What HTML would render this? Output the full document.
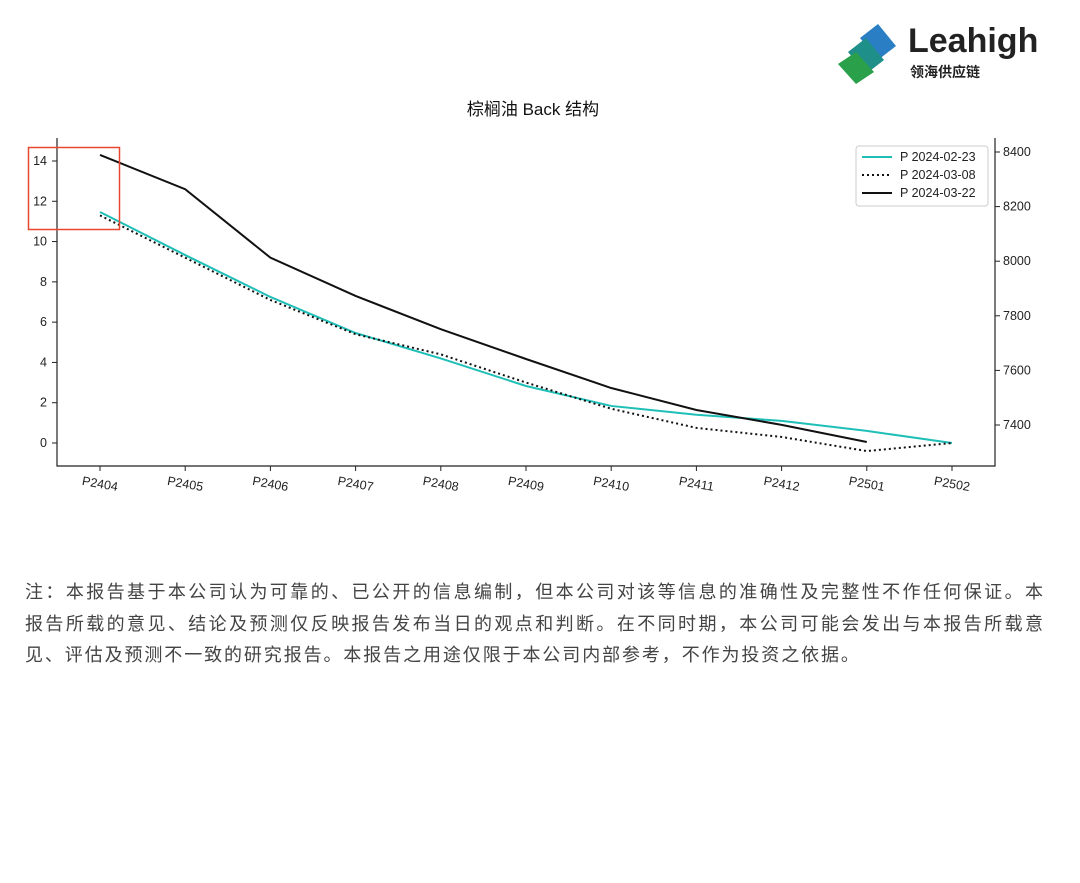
<!DOCTYPE html>
<html><head><meta charset="utf-8"><style>
body{margin:0;width:1080px;height:883px;background:#fff;font-family:"Liberation Sans","Noto Sans CJK SC",sans-serif;position:relative;overflow:hidden}
.note{position:absolute;left:25px;top:577px;width:1018px;font-size:18px;line-height:31.5px;color:#444;letter-spacing:1.9px}
.j{text-align:justify;text-align-last:justify;white-space:nowrap;letter-spacing:0}
</style></head><body>
<div style="position:absolute;left:838px;top:22px;width:210px;height:65px">
<svg width="60" height="62" style="position:absolute;left:0;top:2px">
<polygon points="22,14 40,0 58,22 40,36" fill="#2a7fc4"/>
<polygon points="10,28 28,14 46,36 28,50" fill="#1f8f8a"/>
<polygon points="0,40 18,28 36,48 18,60" fill="#2aa04a"/></svg>
<div style="position:absolute;left:70px;top:0;font-size:34px;font-weight:bold;color:#222">Leahigh</div>
<div style="position:absolute;left:72px;top:40px;font-size:14px;color:#222;font-weight:bold">领海供应链</div>
</div>
<div style="position:absolute;left:0;width:1066px;top:95px;text-align:center;font-size:17px;color:#111">棕榈油 Back 结构</div>
<svg id="chart" width="1080" height="520" style="position:absolute;left:0;top:0"></svg>
<div class="note">
<div class="j">注：本报告基于本公司认为可靠的、已公开的信息编制，但本公司对该等信息的准确性及完整性不作任何保证。本</div>
<div class="j">报告所载的意见、结论及预测仅反映报告发布当日的观点和判断。在不同时期，本公司可能会发出与本报告所载意</div>
<div>见、评估及预测不一致的研究报告。本报告之用途仅限于本公司内部参考，不作为投资之依据。</div>
</div>
<script>
const categories=["P2404","P2405","P2406","P2407","P2408","P2409","P2410","P2411","P2412","P2501","P2502"];
const s0223=[11.47,9.33,7.25,5.46,4.2,2.83,1.84,1.4,1.1,0.6,0];
const s0308=[11.3,9.2,7.1,5.4,4.4,3.0,1.7,0.75,0.3,-0.4,0];
const s0322=[14.3,12.6,9.2,7.3,5.65,4.17,2.73,1.64,0.9,0.05];
const leftTicks=[0,2,4,6,8,10,12,14];
const rightTicks=[7400,7600,7800,8000,8200,8400];
const legendLabels=["P 2024-02-23","P 2024-03-08","P 2024-03-22"];
const NS="http://www.w3.org/2000/svg",svg=document.getElementById('chart');
const L=57,R=995,T=138,B=466;
const x=i=>100+i*(952-100)/(categories.length-1);
const y=v=>443-v*(443-161)/14;
const yr=v=>425-(v-7400)*(425-152)/1000;
function el(t,a,p){const e=document.createElementNS(NS,t);for(const k in a)e.setAttribute(k,a[k]);(p||svg).appendChild(e);return e;}
const bg=el('rect',{x:L,y:T,width:R-L,height:B-T,fill:'#fff'});


const ax=el('path',{d:`M${L} ${T}V${B}H${R}V${T}`,fill:'none',stroke:'#222','stroke-width':1.2});


leftTicks.forEach(v=>{el('line',{x1:L-5,x2:L,y1:y(v),y2:y(v),stroke:'#222'});
const t=el('text',{x:L-10,y:y(v)+4,'text-anchor':'end','font-size':12.5,fill:'#222'});t.textContent=v;

});
rightTicks.forEach(v=>{el('line',{x1:R,x2:R+5,y1:yr(v),y2:yr(v),stroke:'#222'});
const t=el('text',{x:R+8,y:yr(v)+4,'font-size':12.5,fill:'#222'});t.textContent=v;

});
categories.forEach((c,i)=>{el('line',{x1:x(i),x2:x(i),y1:B,y2:B+5,stroke:'#222'});
const t=el('text',{x:x(i),y:B+22,'text-anchor':'middle','font-size':12.5,fill:'#222',transform:`rotate(10 ${x(i)} ${B+18})`});t.textContent=c;

});
function line(d,st,name){const p=el('polyline',Object.assign({points:d.map((v,i)=>x(i)+','+y(v)).join(' '),fill:'none','stroke-width':2},st));

}
line(s0223,{stroke:'#1fbfb8'},'series-2024-02-23');
line(s0308,{stroke:'#111','stroke-dasharray':'2,3'},'series-2024-03-08');
line(s0322,{stroke:'#111'},'series-2024-03-22');
const lg=el('g',{});


el('rect',{x:856,y:146,width:132,height:60,rx:3,fill:'#fff',stroke:'#ccc'},lg);
const sty=[{stroke:'#1fbfb8'},{stroke:'#111','stroke-dasharray':'2,3'},{stroke:'#111'}];
legendLabels.forEach((s,i)=>{const yy=157+i*18;el('line',Object.assign({x1:862,x2:892,y1:yy,y2:yy,'stroke-width':2},sty[i]),lg);
const t=el('text',{x:900,y:yy+4,'font-size':12.5,fill:'#222'},lg);t.textContent=s;});
const hl=el('rect',{x:28.5,y:147.5,width:91,height:82,fill:'none',stroke:'#e8472f','stroke-width':1.5});


</script>
</body></html>
